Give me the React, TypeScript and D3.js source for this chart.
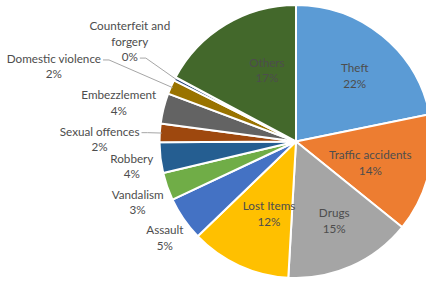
import { useRef, useEffect } from "react";
import * as d3 from "d3";

// slice order as in the chart, clockwise from 12 o'clock
const categories = [
  "Theft",
  "Traffic accidents",
  "Drugs",
  "Lost Items",
  "Assault",
  "Vandalism",
  "Robbery",
  "Sexual offences",
  "Embezzlement",
  "Domestic violence",
  "Counterfeit and forgery",
  "Others",
];
const values = [21.8, 14.0, 15.1, 11.9, 5.2, 3.3, 3.6, 2.2, 3.6, 1.7, 0.4, 17.2];
const colors = [
  "#5B9BD5", "#ED7D31", "#A5A5A5", "#FFC000", "#4472C4", "#70AD47",
  "#255E91", "#9E480E", "#636363", "#997300", "#264478", "#43682B",
];

const W = 426;
const H = 282;
const cx = 296;
const cy = 141.5;
const r = 136.5;
const lineH = 15.5;

// "best fit" labels drawn inside the slice: angle tweak (deg) and radius factor
const inside: Record<string, { dAngle: number; k: number }> = {
  Theft: { dAngle: 2.2, k: 0.65 },
  "Traffic accidents": { dAngle: 1.8, k: 0.565 },
  Drugs: { dAngle: -2, k: 0.64 },
  "Lost Items": { dAngle: -4, k: 0.56 },
  Others: { dAngle: 9, k: 0.57 },
};

// labels pushed away from the pie, with a leader line
const moved: Record<string, { dAngle: number; extra: number; attach: number }> = {
  "Sexual offences": { dAngle: -2.7, extra: 12, attach: 0 },
  "Domestic violence": { dAngle: -6.2, extra: 64, attach: 0 },
  "Counterfeit and forgery": { dAngle: 3.9, extra: 13.5, attach: 2 },
};

const splitName = (n: string) =>
  n === "Counterfeit and forgery" ? ["Counterfeit and", "forgery"] : [n];

export default function App() {
  const ref = useRef<SVGSVGElement>(null);

  useEffect(() => {
    const svg = d3.select(ref.current);
    svg.selectAll("*").remove();

    const g = svg.append("g").attr("transform", `translate(${cx},${cy})`);
    const pie = d3.pie<number>().sort(null).value((d) => d);
    const arcs = pie(values);
    const arc = d3.arc<d3.PieArcDatum<number>>().innerRadius(0).outerRadius(r);
    const total = d3.sum(values);
    const rad = Math.PI / 180;

    g.selectAll("path.slice")
      .data(arcs)
      .join("path")
      .attr("class", "slice")
      .attr("d", arc)
      .attr("fill", (_d, i) => colors[i])
      .attr("stroke", "#fff")
      .attr("stroke-width", 2)
      .attr("stroke-linejoin", "round");

    const polar = (a: number, dist: number): [number, number] => [
      dist * Math.sin(a),
      -dist * Math.cos(a),
    ];

    arcs.forEach((d, i) => {
      const name = categories[i];
      const lines = [...splitName(name), `${Math.round((values[i] / total) * 100)}%`];
      const mid = (d.startAngle + d.endAngle) / 2;
      const lab = g.append("g");
      const texts = lines.map((t, j) =>
        lab
          .append("text")
          .attr("y", (j - (lines.length - 1) / 2) * lineH)
          .attr("text-anchor", "middle")
          .attr("dominant-baseline", "central")
          .attr("font-family", "Lato, 'Open Sans', sans-serif")
          .attr("font-size", 11.7)
          .attr("fill", "#4d4d4d")
          .text(t)
      );
      const bb = (lab.node() as SVGGElement).getBBox();
      let x: number, y: number;
      const lay = moved[name];
      const ins = inside[name];
      if (ins) {
        [x, y] = polar(mid + ins.dAngle * rad, r * ins.k);
      } else {
        const a = mid + (lay ? lay.dAngle : -1.5) * rad;
        const dist =
          r + 8 +
          Math.hypot((bb.width / 2) * Math.sin(a), (bb.height / 2) * Math.cos(a)) +
          (lay ? lay.extra : 0);
        [x, y] = polar(a, dist);
      }
      lab.attr("transform", `translate(${x},${y})`);

      if (lay) {
        const t = texts[lay.attach].node() as SVGTextElement;
        const len = t.getComputedTextLength();
        const ex = x + len / 2 + 2;
        const ey = y + (lay.attach - (lines.length - 1) / 2) * lineH + 2;
        const [px, py] = polar(mid, r - 2);
        g.insert("path", "g")
          .attr("d", `M${ex},${ey}H${ex + 6}L${px},${py}`)
          .attr("fill", "none")
          .attr("stroke", "#A6A6A6")
          .attr("stroke-width", 1);
      }
    });
  }, []);

  return (
    <svg
      ref={ref}
      width={W}
      height={H}
      style={{ position: "absolute", left: 0, top: 0, background: "#fff" }}
    />
  );
}
